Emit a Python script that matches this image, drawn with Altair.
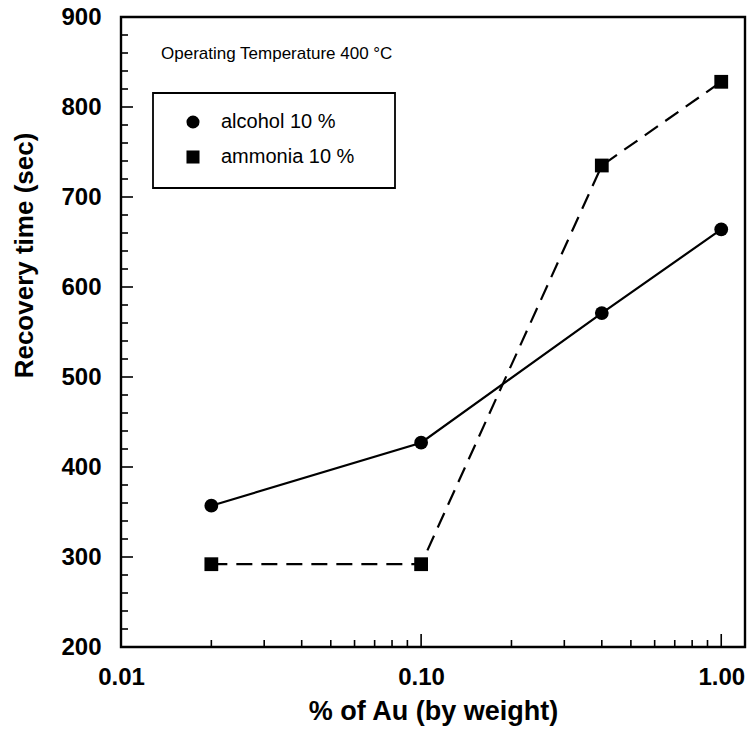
import altair as alt
import pandas as pd

# ---- data ----
au_pct = [0.02, 0.10, 0.40, 1.00]
alcohol = [357, 427, 571, 664]
ammonia = [292, 292, 735, 828]
series_names = ["alcohol 10 %", "ammonia 10 %"]

y_major = [300, 400, 500, 600, 700, 800]
y_minor = [v for v in range(220, 900, 20) if v % 100 != 0]
x_major = [0.1, 1.0]
x_minor = [0.02, 0.03, 0.04, 0.05, 0.06, 0.07, 0.08, 0.09,
           0.2, 0.3, 0.4, 0.5, 0.6, 0.7, 0.8, 0.9]
x_labels = [0.01, 0.1, 1.0]
y_labels = [200, 300, 400, 500, 600, 700, 800, 900]

W, H = 624, 630
FONT = "Liberation Sans"

rows = []
for name, vals in zip(series_names, [alcohol, ammonia]):
    for x, y in zip(au_pct, vals):
        rows.append({"au": x, "t": y, "series": name})
df = pd.DataFrame(rows)

xscale = alt.Scale(type="log", domain=[0.01, 1.2], nice=False)
yscale = alt.Scale(domain=[200, 900], nice=False, zero=False)

x_axis = alt.Axis(values=x_labels, format=".2f", title="% of Au (by weight)",
                  ticks=False, domain=False, grid=False, labelPadding=18,
                  labelFontSize=24, labelFontWeight="bold", labelFont=FONT,
                  titleFontSize=27, titleFontWeight="bold", titleFont=FONT,
                  titleY=64, titleBaseline="middle",
                  labelColor="black", titleColor="black",
                  labelFlush=False)
y_axis = alt.Axis(values=y_labels, title="Recovery time (sec)",
                  ticks=False, domain=False, grid=False, labelPadding=20,
                  labelFontSize=24, labelFontWeight="bold", labelFont=FONT,
                  titleFontSize=26, titleFontWeight="bold", titleFont=FONT,
                  titleX=-97, titleY=238, titleBaseline="middle",
                  labelColor="black", titleColor="black",
                  labelFlush=False)

x_enc = alt.X("au:Q", scale=xscale, axis=x_axis)
y_enc = alt.Y("t:Q", scale=yscale, axis=y_axis)

base = alt.Chart(df)

line_alc = base.transform_filter(alt.datum.series == series_names[0]).mark_line(
    color="black", strokeWidth=2.2).encode(x=x_enc, y=y_enc)
line_amm = base.transform_filter(alt.datum.series == series_names[1]).mark_line(
    color="black", strokeWidth=2.2, strokeDash=[16, 9]).encode(x=x_enc, y=y_enc)

points = base.mark_point(filled=True, color="black", size=190, opacity=1).encode(
    x=x_enc, y=y_enc,
    shape=alt.Shape("series:N",
                    scale=alt.Scale(domain=series_names, range=["circle", "square"]),
                    legend=alt.Legend(title=None, orient="none", legendX=62, legendY=95,
                                      labelFontSize=20, labelFont=FONT, labelColor="black",
                                      symbolSize=170, symbolFillColor="black",
                                      symbolStrokeColor="black", symbolStrokeWidth=0,
                                      labelOffset=18, rowPadding=15, padding=0)),
)

# legend frame
box = alt.Chart(pd.DataFrame({"a": [0]})).mark_rect(
    fill="white", stroke="black", strokeWidth=1.8
).encode(x=alt.value(32), x2=alt.value(274), y=alt.value(76), y2=alt.value(171))

note = alt.Chart(pd.DataFrame({"txt": ["Operating Temperature 400 °C"]})).mark_text(
    align="left", baseline="middle", fontSize=17, font=FONT, color="black"
).encode(text="txt:N", x=alt.value(40), y=alt.value(37))

# inside ticks (same field names so the scales and axes stay shared)
def yticks(vals, length):
    return alt.Chart(pd.DataFrame({"t": vals})).mark_rule(color="black", strokeWidth=1.6).encode(
        y=y_enc, x=alt.value(0), x2=alt.value(length))

def xticks(vals, length):
    return alt.Chart(pd.DataFrame({"au": vals})).mark_rule(color="black", strokeWidth=1.6).encode(
        x=x_enc, y=alt.value(H), y2=alt.value(H - length))

chart = alt.layer(
    line_alc, line_amm, box, note,
    yticks(y_major, 12), yticks(y_minor, 7),
    xticks(x_major, 13), xticks(x_minor, 7),
    points,
).properties(
    width=W, height=H,
    autosize=alt.AutoSizeParams(type="none"),
    padding={"left": 121, "top": 17, "right": 7, "bottom": 94},
    background="white",
).configure_view(stroke="black", strokeWidth=2.4)

chart.save("out.html", embed_options={"renderer": "svg", "actions": False})
